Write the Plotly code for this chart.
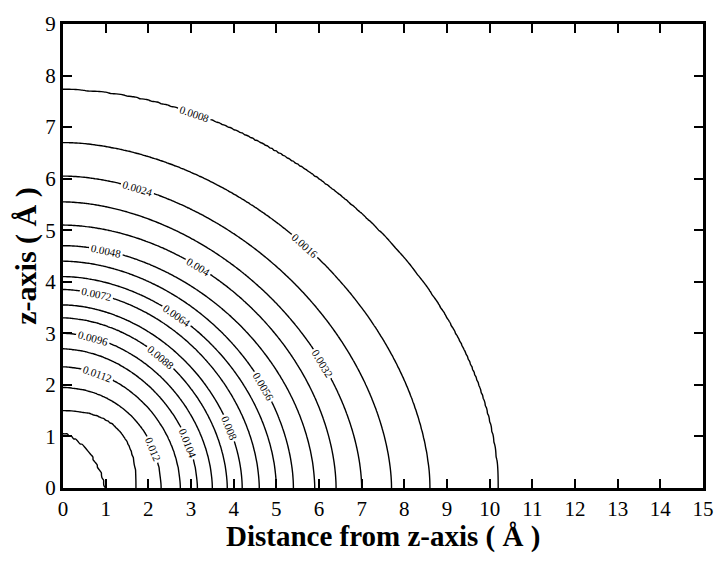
import numpy as np
import plotly.graph_objects as go

# Contour levels and where each contour meets the axes
levels = [0.0008, 0.0016, 0.0024, 0.0032, 0.0040, 0.0048, 0.0056, 0.0064, 0.0072,
          0.0080, 0.0088, 0.0096, 0.0104, 0.0112, 0.0120, 0.0128, 0.0136]
x_intercepts = [10.2, 8.6, 7.7, 7.0, 6.4, 5.9, 5.4, 5.0, 4.6,
                4.2, 3.85, 3.5, 3.15, 2.75, 2.3, 1.72, 1.0]
z_intercepts = [7.72, 6.7, 6.05, 5.55, 5.1, 4.7, 4.4, 4.1, 3.85,
                3.55, 3.3, 3.0, 2.7, 2.35, 1.95, 1.5, 1.08]
# curve roundness of each contour (2 = ellipse)
roundness = [1.85, 1.8, 1.8, 1.8, 1.85, 1.85, 1.85, 1.85, 1.85,
             1.85, 1.85, 1.85, 1.85, 1.9, 2.0, 2.5, 1.5]

x_ticks = list(range(0, 16))
z_ticks = list(range(0, 10))

# Build a field on a grid from the read contour intercepts
L = np.array([0.0] + levels + [0.0146])
A = np.array([22.0] + x_intercepts + [0.05])
B = np.array([17.0] + z_intercepts + [0.05])
P = np.array([1.85] + roundness + [1.5])

xs = np.linspace(0, 15, 301)
zs = np.linspace(0, 9, 181)
X, Z = np.meshgrid(xs, zs)
Pk = P[:, None, None]
S = ((X[None] / A[:, None, None]) ** Pk + (Z[None] / B[:, None, None]) ** Pk) ** (1 / Pk)
idx = (S < 1).sum(axis=0)
idx = np.clip(idx, 1, len(L) - 1)
s0 = np.take_along_axis(S, (idx - 1)[None], axis=0)[0]
s1 = np.take_along_axis(S, idx[None], axis=0)[0]
den = np.where(np.abs(s1 - s0) < 1e-12, 1e-12, s1 - s0)
frac = np.clip((1 - s0) / den, 0, 1)
F = L[idx - 1] + frac * (L[idx] - L[idx - 1])

fig = go.Figure(go.Contour(
    x=xs, y=zs, z=F,
    contours=dict(start=levels[0], end=levels[-1], size=0.0008, coloring="lines",
                  showlabels=True,
                  labelfont=dict(family="Liberation Serif", size=11, color="black"),
                  labelformat=".4~f"),
    colorscale=[[0, "black"], [1, "black"]],
    line=dict(width=1.4, smoothing=1),
    showscale=False,
    hoverinfo="skip",
))

axis_common = dict(
    showline=True, linewidth=3, linecolor="black", mirror="ticks",
    ticks="inside", ticklen=9, tickwidth=2, tickcolor="black",
    showgrid=False, zeroline=False,
    tickfont=dict(family="Liberation Serif", size=21, color="black"),
)

fig.update_layout(
    width=726, height=562,
    margin=dict(l=63, r=12, t=17, b=74),
    paper_bgcolor="white", plot_bgcolor="white",
    xaxis=dict(range=[0, 15], tickvals=x_ticks, **axis_common),
    yaxis=dict(range=[0, 9], tickvals=z_ticks,
               title=dict(text="<b>z-axis ( Å )</b>", standoff=0,
                          font=dict(family="Liberation Serif", size=30, color="black")),
               **axis_common),
    annotations=[dict(text="<b>Distance from z-axis ( Å )</b>", xref="paper", yref="paper",
                      x=0.5, y=-0.105, xanchor="center", yanchor="middle", showarrow=False,
                      font=dict(family="Liberation Serif", size=29, color="black"))],
    showlegend=False,
)

fig.write_html("out.html")
